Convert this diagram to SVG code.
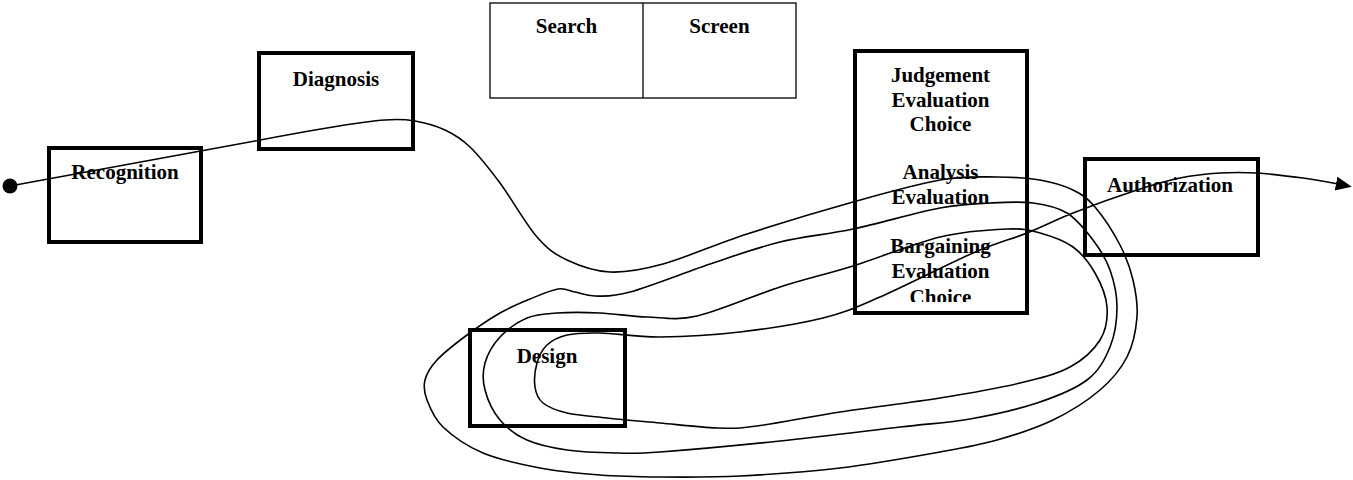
<svg xmlns="http://www.w3.org/2000/svg" width="1353" height="480" viewBox="0 0 1353 480">
  <style>
    .box { fill: none; stroke: #000; stroke-width: 4; }
    .thin { fill: none; stroke: #000; stroke-width: 1.3; }
    .lbl { font-family: "Liberation Serif", "Times New Roman", serif; font-weight: bold; font-size: 21px; fill: #000; text-anchor: middle; }
    .flow { fill: none; stroke: #000; stroke-width: 1.6; stroke-linejoin: round; stroke-linecap: round; }
  </style>
  <defs>
    <marker id="arrow" markerUnits="userSpaceOnUse" markerWidth="18" markerHeight="16" refX="2" refY="7" orient="auto">
      <path d="M0,0 L16,7 L0,14 z" fill="#000"/>
    </marker>
    <clipPath id="judgeClip">
      <rect x="857" y="53" width="168" height="249"/>
    </clipPath>
  </defs>
  <rect width="1353" height="480" fill="#fff"/>

  <g id="recognition">
    <rect class="box" x="49" y="148" width="152" height="94"/>
    <text class="lbl" x="125" y="179">Recognition</text>
  </g>

  <g id="diagnosis">
    <rect class="box" x="259" y="53" width="154" height="96"/>
    <text class="lbl" x="336" y="86">Diagnosis</text>
  </g>

  <g id="search-screen">
    <rect class="thin" x="490" y="3" width="306" height="95"/>
    <line class="thin" x1="643" y1="3" x2="643" y2="98"/>
    <text class="lbl" x="566.5" y="33">Search</text>
    <text class="lbl" x="719.5" y="33">Screen</text>
  </g>

  <g id="judgement">
    <rect class="box" x="855" y="51" width="172" height="262"/>
    <g clip-path="url(#judgeClip)">
      <text class="lbl" x="940.5" y="82">Judgement</text>
      <text class="lbl" x="940.5" y="107">Evaluation</text>
      <text class="lbl" x="940.5" y="131">Choice</text>
      <text class="lbl" x="940.5" y="179">Analysis</text>
      <text class="lbl" x="940.5" y="204">Evaluation</text>
      <text class="lbl" x="940.5" y="253">Bargaining</text>
      <text class="lbl" x="940.5" y="278">Evaluation</text>
      <text class="lbl" x="940.5" y="304">Choice</text>
    </g>
  </g>

  <g id="authorization">
    <rect class="box" x="1085" y="159" width="173" height="96"/>
    <text class="lbl" x="1170" y="192">Authorization</text>
  </g>

  <g id="design">
    <rect class="box" x="470" y="330" width="155" height="96"/>
    <text class="lbl" x="547" y="363">Design</text>
  </g>

  <g id="connectors">
    <circle cx="10" cy="186" r="7.5" fill="#000"/>
    <path class="flow" marker-end="url(#arrow)" d="M10,186 L255,141
      C281,136 311.3,130.5 333,127
      S371.3,121 385,120
      S405,119.3 415,121
      S435.8,125.7 445,130
      S460.8,138.2 470,147
      S488.8,168 500,183
      S525.8,224.2 537,237
      S554.8,254.2 567,260
      S594,271.3 610,272
      S640.2,270.3 663,264
      S715.3,244.3 747,234
      S820.8,211 853,202
      S916,184.2 940,180
      S980.3,177 997,177
      S1027.3,177.8 1040,180
      S1063.8,185.5 1073,190
      S1087.2,197.8 1095,207
      S1113.7,232.8 1120,245
      S1130.2,268 1133,280
      S1138,304.2 1137,317
      S1133.2,344.8 1127,357
      S1112.3,379.5 1100,390
      S1070.2,411.7 1053,420
      S1015.8,434.7 997,440
      S966.2,447.3 940,452
      S873.3,464 840,468
      S770,474.5 740,476
      S683.3,477.2 660,477
      S620,476.5 600,475
      S559.5,471.7 540,468
      S499.2,459.8 483,453
      S452.3,435.8 443,427
      S430,407.8 427,400
      S423.3,386.7 425,380
      S430,367.5 437,360
      S456.5,342.8 467,335
      S489.5,319 500,313
      S520.3,303 530,299
      S550.5,290.2 558,289
      S568.8,290.8 575,292
      S585.8,296 595,296
      S610.3,297.5 630,292
      S688,271.3 713,263
      S756.7,247.7 780,242
      S826.3,234.7 853,229
      S917.2,212.3 940,208
      S974.5,203.8 990,203
      S1020.2,201.3 1033,203
      S1057,206.8 1067,213
      S1085.8,230.5 1093,240
      S1106,258.8 1110,270
      S1117,294.2 1117,307
      S1115,334.8 1110,347
      S1099.2,370.7 1087,380
      S1056.5,396.5 1037,403
      S992.8,415 970,419
      S931.7,423.3 900,427
      S820,436.8 780,441
      S687.2,450 660,452
      S632.5,453.3 617,453
      S582,452.2 567,450
      S538.2,445 527,440
      S507,428.3 500,420
      S487.5,399.5 485,390
      S482.5,371.8 485,363
      S493,344.5 500,337
      S517.5,322 527,318
      S544.8,313.8 557,313
      S585,312.3 600,313
      S630.8,316.5 647,317
      S674.8,321 697,316
      S754,295.3 780,287
      S826.3,274.3 853,266
      S914.3,243.2 940,237
      S990.3,229.7 1007,229
      S1029,230 1040,233
      S1063.8,240.3 1073,247
      S1089.3,263 1095,273
      S1106.2,295.8 1107,307
      S1106.2,330 1100,340
      S1083.3,359.8 1070,367
      S1041.7,377.8 1020,383
      S970,393.2 940,398
      S870.5,407.3 840,412
      S777.5,423.3 757,426
      S733.2,428.5 717,428
      S678.3,424.7 660,423
      S622.5,419.7 607,418
      S577.7,415.5 567,413
      S548.3,407.3 543,403
      S536,393.7 535,387
      S535,370 537,363
      S542,349.7 547,345
      S558.2,337 567,335
      S584.5,332.7 600,333
      S636.7,337.2 660,337
      S712.8,335.2 740,332
      S799.7,323.8 823,318
      S855,307.8 880,297
      S948.5,263.7 973,253
      S1010.3,239.7 1027,233
      S1054.7,220.2 1073,213
      S1119.2,195.8 1137,190
      S1166.2,180.8 1180,178
      S1207.2,173.8 1220,173
      S1243.2,172.2 1257,173
      S1289.2,176.2 1303,178
      S1327.7,182 1338,184"/>
  </g>
</svg>
